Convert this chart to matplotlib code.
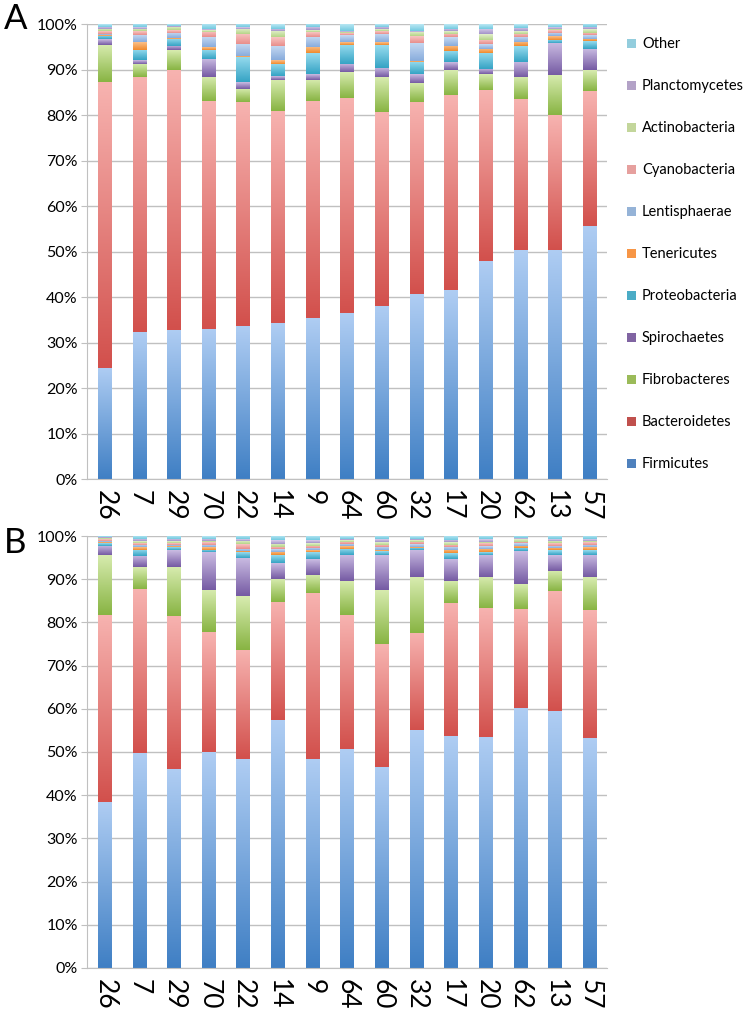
"""Stacked phylum composition per sample, panels A and B."""

import numpy as np
import matplotlib

matplotlib.use("Agg")
import matplotlib.pyplot as plt
from matplotlib.colors import LinearSegmentedColormap
from matplotlib.patches import Patch
from matplotlib.ticker import PercentFormatter

plt.rcParams["font.family"] = ["Lato", "DejaVu Sans"]

samples = ["26", "7", "29", "70", "22", "14", "9", "64", "60", "32", "17", "20", "62", "13", "57"]
phyla = ["Firmicutes", "Bacteroidetes", "Fibrobacteres", "Spirochaetes", "Proteobacteria",
         "Tenericutes", "Lentisphaerae", "Cyanobacteria", "Actinobacteria", "Planctomycetes", "Other"]

# panel A, % of reads per sample
a_firmicutes = [24.5, 32.3, 32.8, 33.0, 33.7, 34.2, 35.3, 36.4, 38.1, 40.6, 41.5, 48.0, 50.3, 50.4, 55.7]
a_bacteroidetes = [62.7, 56.1, 57.1, 50.0, 49.1, 46.7, 47.7, 47.3, 42.6, 42.3, 43.0, 37.5, 33.2, 29.6, 29.6]
a_fibrobacteres = [8.3, 2.9, 4.3, 5.4, 3.0, 6.9, 4.7, 5.7, 7.6, 4.2, 5.4, 3.5, 4.9, 8.8, 4.6]
a_spirochaetes = [1.2, 0.8, 1.0, 4.0, 1.4, 0.7, 1.3, 1.9, 2.1, 1.9, 1.7, 1.1, 3.3, 7.1, 4.7]
a_proteobacteria = [0.7, 2.3, 1.6, 2.0, 5.5, 2.8, 4.6, 4.2, 5.0, 2.7, 2.5, 3.6, 3.5, 0.7, 1.7]
a_tenericutes = [0.2, 1.6, 0.2, 0.6, 0.2, 0.8, 1.4, 0.6, 0.6, 0.2, 1.1, 0.9, 0.9, 0.8, 0.5]
a_lentisphaerae = [0.3, 1.7, 1.1, 2.2, 2.7, 3.1, 2.2, 1.5, 1.9, 4.0, 1.9, 1.0, 1.1, 0.7, 0.8]
a_cyanobacteria = [0.5, 0.8, 0.5, 1.1, 2.3, 1.9, 1.0, 0.4, 0.5, 1.5, 0.7, 1.0, 0.7, 0.5, 0.5]
a_actinobacteria = [0.5, 0.5, 0.7, 0.3, 1.1, 1.4, 0.4, 0.3, 0.4, 0.9, 0.6, 1.3, 0.6, 0.4, 0.7]
a_planctomycetes = [0.5, 0.3, 0.3, 0.2, 0.3, 0.5, 0.7, 0.2, 0.6, 0.2, 0.6, 1.1, 0.7, 0.4, 0.5]
a_other = [0.6, 0.7, 0.4, 1.2, 0.7, 1.0, 0.7, 1.6, 0.6, 1.5, 1.0, 1.0, 0.8, 0.6, 0.7]

# panel B
b_firmicutes = [38.5, 49.7, 46.0, 50.0, 48.3, 57.3, 48.4, 50.6, 46.6, 55.0, 53.6, 53.5, 60.1, 59.4, 53.3]
b_bacteroidetes = [43.1, 38.1, 35.5, 27.7, 25.4, 27.4, 38.4, 31.0, 28.4, 22.6, 30.8, 29.8, 23.1, 27.8, 29.6]
b_fibrobacteres = [14.1, 5.0, 11.4, 9.9, 12.5, 5.4, 4.2, 7.9, 12.6, 12.9, 5.2, 7.3, 5.7, 4.8, 7.6]
b_spirochaetes = [2.1, 2.6, 3.9, 8.7, 8.8, 3.6, 3.7, 6.2, 8.1, 6.3, 5.1, 5.1, 7.6, 3.7, 5.2]
b_proteobacteria = [0.6, 1.4, 0.6, 0.5, 1.3, 1.8, 1.6, 1.4, 0.8, 0.5, 1.3, 0.6, 0.8, 1.0, 1.1]
b_tenericutes = [0.2, 0.6, 0.2, 0.6, 0.3, 0.8, 0.4, 0.6, 0.2, 0.2, 0.7, 0.8, 0.5, 0.5, 0.6]
b_lentisphaerae = [0.3, 0.6, 0.4, 0.6, 0.5, 0.6, 0.6, 0.5, 0.7, 0.6, 0.7, 0.6, 0.5, 0.5, 0.6]
b_cyanobacteria = [0.3, 0.4, 0.4, 0.5, 1.1, 0.5, 0.5, 0.5, 0.6, 0.5, 0.6, 0.6, 0.4, 0.6, 0.5]
b_actinobacteria = [0.3, 0.4, 0.4, 0.4, 0.7, 0.8, 0.6, 0.4, 0.6, 0.4, 0.5, 0.4, 0.6, 0.6, 0.4]
b_planctomycetes = [0.3, 0.5, 0.5, 0.5, 0.4, 0.8, 0.6, 0.3, 0.6, 0.4, 0.5, 0.5, 0.2, 0.4, 0.3]
b_other = [0.2, 0.7, 0.7, 0.6, 0.7, 1.0, 1.0, 0.6, 0.8, 0.6, 1.0, 0.8, 0.5, 0.7, 0.8]

panel_a = [a_firmicutes, a_bacteroidetes, a_fibrobacteres, a_spirochaetes, a_proteobacteria,
           a_tenericutes, a_lentisphaerae, a_cyanobacteria, a_actinobacteria, a_planctomycetes, a_other]
panel_b = [b_firmicutes, b_bacteroidetes, b_fibrobacteres, b_spirochaetes, b_proteobacteria,
           b_tenericutes, b_lentisphaerae, b_cyanobacteria, b_actinobacteria, b_planctomycetes, b_other]

# (bottom, top) gradient colours, Excel style
gradients = [
    ("#3f7fc4", "#afcdf3"),
    ("#d2504c", "#f7b3b0"),
    ("#88b443", "#d8ecb0"),
    ("#755aa3", "#cbbde3"),
    ("#35a3c4", "#98dcef"),
    ("#f08a2c", "#fbc08a"),
    ("#88acdc", "#c8dbf3"),
    ("#e88e8b", "#f8c6c4"),
    ("#b5d487", "#e4f1cd"),
    ("#a393c8", "#d9d0ec"),
    ("#72cae0", "#bce8f4"),
]
legend_colors = ["#4f81bd", "#c0504d", "#9bbb59", "#8064a2", "#4bacc6", "#f79646",
                 "#95b3d7", "#e6a09e", "#c3d69b", "#b3a2c7", "#93cddd"]

GRID = "#c0c0c0"
ramp = np.linspace(0, 1, 128).reshape(-1, 1)


def draw_panel(ax, values):
    x = np.arange(len(samples))
    bottom = np.zeros(len(samples))
    for series, (c0, c1) in zip(values, gradients):
        cmap = LinearSegmentedColormap.from_list("g", [c0, c1])
        bars = ax.bar(x, series, width=0.4, bottom=bottom, color="none", linewidth=0, zorder=3)
        for patch in bars:
            bb = patch.get_bbox()
            ax.imshow(ramp, cmap=cmap, origin="lower", aspect="auto", interpolation="bilinear",
                      extent=(bb.x0, bb.x1, bb.y0, bb.y1), zorder=2)
        bottom += np.array(series)

    ax.set_xlim(-0.5, len(samples) - 0.5)
    ax.set_ylim(0, 100)
    ax.set_yticks(np.arange(0, 101, 10))
    ax.yaxis.set_major_formatter(PercentFormatter(decimals=0))
    ax.set_xticks(x)
    ax.set_xticklabels(samples, rotation=-90, fontsize=19)
    ax.grid(axis="y", color=GRID, linewidth=1, zorder=0)
    ax.set_axisbelow(True)
    for side in ("top", "right"):
        ax.spines[side].set_visible(False)
    for side in ("left", "bottom"):
        ax.spines[side].set_color(GRID)
    ax.tick_params(axis="y", length=4, color=GRID, labelsize=11.5, pad=3)
    ax.tick_params(axis="x", length=0, pad=8)


fig = plt.figure(figsize=(7.51, 10.10), dpi=100)
ax_a = fig.add_axes([0.1165, 0.5257, 0.692, 0.4505])
ax_b = fig.add_axes([0.1165, 0.0416, 0.692, 0.4277])
draw_panel(ax_a, panel_a)
draw_panel(ax_b, panel_b)

fig.text(0.005, 0.997, "A", fontsize=25, va="top", ha="left")
fig.text(0.005, 0.478, "B", fontsize=25, va="top", ha="left")

handles = [Patch(facecolor=c, edgecolor="none", label=n) for n, c in zip(phyla, legend_colors)]
fig.legend(handles=handles[::-1], loc="upper left", bbox_to_anchor=(0.818, 0.976), frameon=False,
           fontsize=10.5, labelspacing=1.92, handlelength=0.6, handleheight=0.6, handletextpad=0.4)

fig.savefig("out.png", dpi=100)
